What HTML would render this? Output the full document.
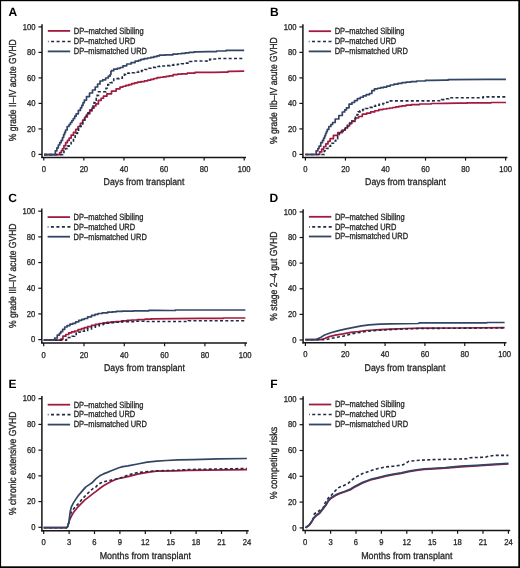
<!DOCTYPE html>
<html><head><meta charset="utf-8"><style>
html,body{margin:0;padding:0;background:#fff;}
svg{display:block;font-family:"Liberation Sans",sans-serif;will-change:transform;text-rendering:geometricPrecision;}
.t{fill:#262626;stroke:#262626;stroke-width:0.3px;}
</style></head><body>
<svg width="520" height="568" viewBox="0 0 520 568">
<rect x="0" y="0" width="520" height="568" fill="#fff"/>
<g><text x="8.5" y="16" font-size="12" font-weight="bold" fill="#000">A</text><line x1="42" y1="24.3" x2="42" y2="158" stroke="#151515" stroke-width="1.5"/><line x1="41.4" y1="157.4" x2="246" y2="157.4" stroke="#151515" stroke-width="1.5"/><line x1="38.5" y1="154.4" x2="42" y2="154.4" stroke="#151515" stroke-width="1.2"/><text x="31.25" y="157.1" font-size="8.5" textLength="4.25" lengthAdjust="spacingAndGlyphs" class="t">0</text><line x1="38.5" y1="128.9" x2="42" y2="128.9" stroke="#151515" stroke-width="1.2"/><text x="26.99" y="131.6" font-size="8.5" textLength="8.51" lengthAdjust="spacingAndGlyphs" class="t">20</text><line x1="38.5" y1="103.4" x2="42" y2="103.4" stroke="#151515" stroke-width="1.2"/><text x="26.99" y="106.1" font-size="8.5" textLength="8.51" lengthAdjust="spacingAndGlyphs" class="t">40</text><line x1="38.5" y1="77.9" x2="42" y2="77.9" stroke="#151515" stroke-width="1.2"/><text x="26.99" y="80.6" font-size="8.5" textLength="8.51" lengthAdjust="spacingAndGlyphs" class="t">60</text><line x1="38.5" y1="52.4" x2="42" y2="52.4" stroke="#151515" stroke-width="1.2"/><text x="26.99" y="55.1" font-size="8.5" textLength="8.51" lengthAdjust="spacingAndGlyphs" class="t">80</text><line x1="38.5" y1="26.9" x2="42" y2="26.9" stroke="#151515" stroke-width="1.2"/><text x="22.74" y="29.6" font-size="8.5" textLength="12.76" lengthAdjust="spacingAndGlyphs" class="t">100</text><line x1="43.8" y1="157.4" x2="43.8" y2="160.6" stroke="#151515" stroke-width="1.2"/><text x="41.67" y="171.9" font-size="8.5" textLength="4.25" lengthAdjust="spacingAndGlyphs" class="t">0</text><line x1="83.88" y1="157.4" x2="83.88" y2="160.6" stroke="#151515" stroke-width="1.2"/><text x="79.63" y="171.9" font-size="8.5" textLength="8.51" lengthAdjust="spacingAndGlyphs" class="t">20</text><line x1="123.96" y1="157.4" x2="123.96" y2="160.6" stroke="#151515" stroke-width="1.2"/><text x="119.71" y="171.9" font-size="8.5" textLength="8.51" lengthAdjust="spacingAndGlyphs" class="t">40</text><line x1="164.04" y1="157.4" x2="164.04" y2="160.6" stroke="#151515" stroke-width="1.2"/><text x="159.79" y="171.9" font-size="8.5" textLength="8.51" lengthAdjust="spacingAndGlyphs" class="t">60</text><line x1="204.12" y1="157.4" x2="204.12" y2="160.6" stroke="#151515" stroke-width="1.2"/><text x="199.87" y="171.9" font-size="8.5" textLength="8.51" lengthAdjust="spacingAndGlyphs" class="t">80</text><line x1="244.2" y1="157.4" x2="244.2" y2="160.6" stroke="#151515" stroke-width="1.2"/><text x="237.82" y="171.9" font-size="8.5" textLength="12.76" lengthAdjust="spacingAndGlyphs" class="t">100</text><text x="103.6" y="185.4" font-size="9.8" textLength="80.8" lengthAdjust="spacingAndGlyphs" class="t">Days from transplant</text><text transform="translate(16.1,141.25) rotate(-90)" font-size="10.2" textLength="102" lengthAdjust="spacingAndGlyphs" class="t">% grade II–IV acute GVHD</text><line x1="47.8" y1="30.9" x2="70.2" y2="30.9" stroke="#a11a3f" stroke-width="1.8"/><line x1="47.9" y1="41.5" x2="70.6" y2="41.5" stroke="#222b44" stroke-width="1.6" stroke-dasharray="0.7,2.5,3,2.5,3,2.5,3,2.5,3,9"/><line x1="47.8" y1="51.4" x2="70.2" y2="51.4" stroke="#334566" stroke-width="1.8"/><text x="73.8" y="33.7" font-size="9" textLength="69.8" lengthAdjust="spacingAndGlyphs" class="t">DP–matched Sibiling</text><text x="73.8" y="44.3" font-size="9" textLength="61.5" lengthAdjust="spacingAndGlyphs" class="t">DP–matched URD</text><text x="73.8" y="54.2" font-size="9" textLength="73.2" lengthAdjust="spacingAndGlyphs" class="t">DP–mismatched URD</text><polyline points="44,154.6 58.6,154.6 59.7,154.6 59.7,152.5 60.8,152.5 61.38,152.5 61.38,150.5 62.52,150.5 62.52,148.5 63.1,148.5 63.95,148.5 63.95,145.6 65.65,145.6 65.65,142.7 66.5,142.7 67.38,142.7 67.38,140.4 69.12,140.4 69.12,138.1 70,138.1 71.15,138.1 71.15,135.2 73.45,135.2 73.45,132.3 74.6,132.3 75.75,132.3 75.75,129.4 78.05,129.4 78.05,126.5 79.2,126.5 80.35,126.5 80.35,123.35 82.65,123.35 82.65,120.2 83.8,120.2 84.97,120.2 84.97,117 87.33,117 87.33,113.8 88.5,113.8 89.65,113.8 89.65,110.95 91.95,110.95 91.95,108.1 93.1,108.1 94.02,108.1 94.02,106 95.88,106 95.88,103.9 96.8,103.9 98.4,103.9 98.4,100.3 100,100.3 101.15,100.3 101.15,98.25 103.45,98.25 103.45,96.2 104.6,96.2 106.9,96.2 106.9,93.8 109.2,93.8 111.5,93.8 111.5,91.1 113.8,91.1 116.15,91.1 116.15,88.8 118.5,88.8 120,88.8 120,87.1 121.5,87.1 122.95,87.1 122.95,86.25 125.85,86.25 125.85,85.4 127.3,85.4 128.75,85.4 128.75,84.55 131.65,84.55 131.65,83.7 133.1,83.7 134.55,83.7 134.55,82.95 137.45,82.95 137.45,82.2 138.9,82.2 140.9,82.2 140.9,81.6 142.9,81.6 144.55,81.6 144.55,80.8 146.2,80.8 147.72,80.8 147.72,80.05 150.78,80.05 150.78,79.3 152.3,79.3 153.85,79.3 153.85,78.5 156.95,78.5 156.95,77.7 158.5,77.7 160.03,77.7 160.03,77.25 163.07,77.25 163.07,76.8 164.6,76.8 166.1,76.8 166.1,76.3 169.1,76.3 169.1,75.8 170.6,75.8 173.15,75.8 173.15,74.6 175.7,74.6 177.62,74.6 177.62,74.2 181.47,74.2 181.47,73.8 183.4,73.8 187.25,73.8 187.25,73.1 191.1,73.1 194.95,73.1 194.95,72.4 198.8,72.4 213.1,72.3 224.6,72.1 228.05,72.1 228.05,71.4 231.5,71.4 244.2,71.2" fill="none" stroke="#a11a3f" stroke-width="1.7" stroke-linejoin="round"/><polyline points="44,154.6 62,154.6 62.55,154.6 62.55,152.5 63.1,152.5 63.95,152.5 63.95,150.5 65.65,150.5 65.65,148.5 66.5,148.5 67.38,148.5 67.38,146.15 69.12,146.15 69.12,143.8 70,143.8 71.15,143.8 71.15,140.95 73.45,140.95 73.45,138.1 74.6,138.1 75.17,138.1 75.17,135.72 76.33,135.72 76.33,133.35 77.47,133.35 77.47,130.97 78.62,130.97 78.62,128.6 79.2,128.6 79.85,128.6 79.85,126.4 81.15,126.4 81.15,124.2 81.8,124.2 82.68,124.2 82.68,121.27 84.45,121.27 84.45,118.33 86.22,118.33 86.22,115.4 87.1,115.4 87.98,115.4 87.98,112.73 89.75,112.73 89.75,110.07 91.52,110.07 91.52,107.4 92.4,107.4 92.97,107.4 92.97,104.97 94.1,104.97 94.1,102.53 95.23,102.53 95.23,100.1 95.8,100.1 96.25,100.1 96.25,97.75 97.15,97.75 97.15,95.4 97.6,95.4 98.5,95.4 98.5,91.8 99.4,91.8 105.4,91.8 106,91.8 106,88.2 106.6,88.2 107.8,88.2 107.8,84.6 109,84.6 110.15,84.6 110.15,82.8 111.3,82.8 112.1,82.8 112.1,82.2 112.9,82.2 113.75,82.2 113.75,79 114.6,79 116.05,79 116.05,78.6 118.95,78.6 118.95,78.2 120.4,78.2 122.3,78.2 122.3,76.7 124.2,76.7 124.4,76.7 124.4,74.4 124.6,74.4 125.65,74.4 125.65,73.3 126.7,73.3 129.3,73.3 129.3,72.7 131.9,72.7 134.5,72.7 134.5,72.2 137.1,72.2 138.55,72.2 138.55,71.4 141.45,71.4 141.45,70.6 142.9,70.6 144.93,70.6 144.93,69.45 148.97,69.45 148.97,68.3 151,68.3 152.45,68.3 152.45,67.4 155.35,67.4 155.35,66.5 156.8,66.5 159.6,66.5 159.6,66.05 165.2,66.05 165.2,65.6 168,65.6 169.93,65.6 169.93,65.1 173.77,65.1 173.77,64.6 175.7,64.6 177.62,64.6 177.62,64.2 181.47,64.2 181.47,63.8 183.4,63.8 185.7,63.8 185.7,63.1 188,63.1 189.55,63.1 189.55,61.5 191.1,61.5 193,61.5 193,61 194.9,61 208.5,61.1 209.65,61.1 209.65,59.4 210.8,59.4 213.1,59.4 213.1,58.95 217.7,58.95 217.7,58.5 220,58.5 244.2,58.5" fill="none" stroke="#222b44" stroke-width="1.6" stroke-dasharray="3,2.3"/><polyline points="44,154.6 54.4,154.6 55.3,154.6 55.3,150.8 56.2,150.8 56.9,150.8 56.9,147.9 58.3,147.9 58.3,145 59,145 59.73,145 59.73,142.7 61.17,142.7 61.17,140.4 61.9,140.4 62.48,140.4 62.48,137.5 63.62,137.5 63.62,134.6 64.2,134.6 64.65,134.6 64.65,132.3 65.55,132.3 65.55,130 66,130 67.15,130 67.15,126.5 68.3,126.5 69.03,126.5 69.03,124.5 70.47,124.5 70.47,122.5 71.2,122.5 71.9,122.5 71.9,120.5 73.3,120.5 73.3,118.5 74,118.5 74.72,118.5 74.72,116.15 76.18,116.15 76.18,113.8 76.9,113.8 78.35,113.8 78.35,110.4 79.8,110.4 80.45,110.4 80.45,107.85 81.75,107.85 81.75,105.3 82.4,105.3 83.05,105.3 83.05,102.7 84.35,102.7 84.35,100.1 85,100.1 86.5,100.1 86.5,96.6 88,96.6 89.5,96.6 89.5,93 91,93 92.5,93 92.5,90 94,90 95.2,90 95.2,87 96.4,87 97.6,87 97.6,84 98.8,84 100,84 100,81 101.2,81 102.7,81 102.7,79.8 104.2,79.8 105.65,79.8 105.65,78 107.1,78 108.3,78 108.3,76.2 109.5,76.2 110.05,76.2 110.05,74.5 110.6,74.5 110.9,74.5 110.9,71.5 111.2,71.5 111.45,71.5 111.45,70.7 111.7,70.7 113.75,70.7 113.75,69.2 115.8,69.2 117.22,69.2 117.22,68.35 120.08,68.35 120.08,67.5 121.5,67.5 122.95,67.5 122.95,65.8 124.4,65.8 126.7,65.8 126.7,64 129,64 131.05,64 131.05,62.6 133.1,62.6 135.1,62.6 135.1,61.2 137.1,61.2 138.55,61.2 138.55,60.3 140,60.3 140.9,60.3 140.9,59.4 141.8,59.4 144,59.4 144,58.6 146.2,58.6 147.72,58.6 147.72,58 150.78,58 150.78,57.4 152.3,57.4 153.85,57.4 153.85,56.65 156.95,56.65 156.95,55.9 158.5,55.9 159.4,55.9 159.4,55.2 160.3,55.2 165.15,55.2 165.15,54.9 170,54.9 172.85,54.9 172.85,54.2 175.7,54.2 177.62,54.2 177.62,53.75 181.47,53.75 181.47,53.3 183.4,53.3 185.32,53.3 185.32,52.8 189.18,52.8 189.18,52.3 191.1,52.3 194.15,52.3 194.15,51.8 197.2,51.8 208.5,51.6 216.55,51.6 216.55,51 224.6,51 226.05,51 226.05,50.4 227.5,50.4 244.2,50.4" fill="none" stroke="#334566" stroke-width="1.7" stroke-linejoin="round"/></g>
<g><text x="269.9" y="16" font-size="12" font-weight="bold" fill="#000">B</text><line x1="302.9" y1="24.3" x2="302.9" y2="158" stroke="#151515" stroke-width="1.5"/><line x1="302.3" y1="157.4" x2="507.4" y2="157.4" stroke="#151515" stroke-width="1.5"/><line x1="299.4" y1="154.4" x2="302.9" y2="154.4" stroke="#151515" stroke-width="1.2"/><text x="292.15" y="157.1" font-size="8.5" textLength="4.25" lengthAdjust="spacingAndGlyphs" class="t">0</text><line x1="299.4" y1="128.9" x2="302.9" y2="128.9" stroke="#151515" stroke-width="1.2"/><text x="287.89" y="131.6" font-size="8.5" textLength="8.51" lengthAdjust="spacingAndGlyphs" class="t">20</text><line x1="299.4" y1="103.4" x2="302.9" y2="103.4" stroke="#151515" stroke-width="1.2"/><text x="287.89" y="106.1" font-size="8.5" textLength="8.51" lengthAdjust="spacingAndGlyphs" class="t">40</text><line x1="299.4" y1="77.9" x2="302.9" y2="77.9" stroke="#151515" stroke-width="1.2"/><text x="287.89" y="80.6" font-size="8.5" textLength="8.51" lengthAdjust="spacingAndGlyphs" class="t">60</text><line x1="299.4" y1="52.4" x2="302.9" y2="52.4" stroke="#151515" stroke-width="1.2"/><text x="287.89" y="55.1" font-size="8.5" textLength="8.51" lengthAdjust="spacingAndGlyphs" class="t">80</text><line x1="299.4" y1="26.9" x2="302.9" y2="26.9" stroke="#151515" stroke-width="1.2"/><text x="283.64" y="29.6" font-size="8.5" textLength="12.76" lengthAdjust="spacingAndGlyphs" class="t">100</text><line x1="305.4" y1="157.4" x2="305.4" y2="160.6" stroke="#151515" stroke-width="1.2"/><text x="303.27" y="171.9" font-size="8.5" textLength="4.25" lengthAdjust="spacingAndGlyphs" class="t">0</text><line x1="345.44" y1="157.4" x2="345.44" y2="160.6" stroke="#151515" stroke-width="1.2"/><text x="341.19" y="171.9" font-size="8.5" textLength="8.51" lengthAdjust="spacingAndGlyphs" class="t">20</text><line x1="385.48" y1="157.4" x2="385.48" y2="160.6" stroke="#151515" stroke-width="1.2"/><text x="381.23" y="171.9" font-size="8.5" textLength="8.51" lengthAdjust="spacingAndGlyphs" class="t">40</text><line x1="425.52" y1="157.4" x2="425.52" y2="160.6" stroke="#151515" stroke-width="1.2"/><text x="421.27" y="171.9" font-size="8.5" textLength="8.51" lengthAdjust="spacingAndGlyphs" class="t">60</text><line x1="465.56" y1="157.4" x2="465.56" y2="160.6" stroke="#151515" stroke-width="1.2"/><text x="461.31" y="171.9" font-size="8.5" textLength="8.51" lengthAdjust="spacingAndGlyphs" class="t">80</text><line x1="505.6" y1="157.4" x2="505.6" y2="160.6" stroke="#151515" stroke-width="1.2"/><text x="499.22" y="171.9" font-size="8.5" textLength="12.76" lengthAdjust="spacingAndGlyphs" class="t">100</text><text x="365.1" y="185.4" font-size="9.8" textLength="80.8" lengthAdjust="spacingAndGlyphs" class="t">Days from transplant</text><text transform="translate(277,143.95) rotate(-90)" font-size="10.2" textLength="106.7" lengthAdjust="spacingAndGlyphs" class="t">% grade IIb–IV acute GVHD</text><line x1="308.7" y1="31.2" x2="331.1" y2="31.2" stroke="#a11a3f" stroke-width="1.8"/><line x1="308.8" y1="41.5" x2="331.5" y2="41.5" stroke="#222b44" stroke-width="1.6" stroke-dasharray="0.7,2.5,3,2.5,3,2.5,3,2.5,3,9"/><line x1="308.7" y1="51.4" x2="331.1" y2="51.4" stroke="#334566" stroke-width="1.8"/><text x="334.7" y="34" font-size="9" textLength="69.8" lengthAdjust="spacingAndGlyphs" class="t">DP–matched Sibiling</text><text x="334.7" y="44.3" font-size="9" textLength="61.5" lengthAdjust="spacingAndGlyphs" class="t">DP–matched URD</text><text x="334.7" y="54.2" font-size="9" textLength="73.2" lengthAdjust="spacingAndGlyphs" class="t">DP–mismatched URD</text><polyline points="305.4,154.5 318.5,154.5 319.65,154.5 319.65,151.9 320.8,151.9 321.7,151.9 321.7,149.1 322.6,149.1 323.68,149.1 323.68,146.5 325.82,146.5 325.82,143.9 326.9,143.9 327.97,143.9 327.97,141.3 330.12,141.3 330.12,138.7 331.2,138.7 333.4,138.7 333.4,135.3 335.6,135.3 337.75,135.3 337.75,132.7 339.9,132.7 342.05,132.7 342.05,130.1 344.2,130.1 345.27,130.1 345.27,127.95 347.43,127.95 347.43,125.8 348.5,125.8 349.6,125.8 349.6,123.6 351.8,123.6 351.8,121.4 352.9,121.4 355.05,121.4 355.05,118 357.2,118 358.6,118 358.6,116.5 360,116.5 362.3,116.5 362.3,114.2 364.6,114.2 366.62,114.2 366.62,113.05 370.68,113.05 370.68,111.9 372.7,111.9 374.73,111.9 374.73,110.75 378.77,110.75 378.77,109.6 380.8,109.6 382.9,109.6 382.9,109 385,109 386.53,109 386.53,108.5 389.6,108.5 389.6,108 392.67,108 392.67,107.5 394.2,107.5 395.75,107.5 395.75,106.93 398.85,106.93 398.85,106.37 401.95,106.37 401.95,105.8 403.5,105.8 406.07,105.8 406.07,105.2 411.23,105.2 411.23,104.6 413.8,104.6 419.6,104.6 419.6,104 425.4,104 431.15,104 431.15,103.5 436.9,103.5 445,103.4 457.5,103.2 466.85,103.2 466.85,102.8 476.2,102.8 491.1,102.8 491.1,102.5 506,102.5" fill="none" stroke="#a11a3f" stroke-width="1.7" stroke-linejoin="round"/><polyline points="305.4,154.5 323.1,154.5 324.25,154.5 324.25,150.8 325.4,150.8 326.25,150.8 326.25,148.5 327.95,148.5 327.95,146.2 328.8,146.2 330.55,146.2 330.55,143.3 332.3,143.3 333.45,143.3 333.45,141 334.6,141 335.75,141 335.75,138.7 336.9,138.7 337.67,138.7 337.67,136.1 339.23,136.1 339.23,133.5 340,133.5 341.05,133.5 341.05,131.5 343.15,131.5 343.15,129.5 344.2,129.5 345.27,129.5 345.27,127.4 347.43,127.4 347.43,125.3 348.5,125.3 349.6,125.3 349.6,123.15 351.8,123.15 351.8,121 352.9,121 353.8,121 353.8,119 355.6,119 355.6,117 356.5,117 357.07,117 357.07,114.45 358.23,114.45 358.23,111.9 358.8,111.9 360,111.9 360,110.8 361.2,110.8 362.62,110.8 362.62,109.65 365.47,109.65 365.47,108.5 366.9,108.5 368.62,108.5 368.62,107.35 372.07,107.35 372.07,106.2 373.8,106.2 375.55,106.2 375.55,105.3 379.05,105.3 379.05,104.4 380.8,104.4 382.9,104.4 382.9,103.5 385,103.5 386.75,103.5 386.75,102.3 388.5,102.3 389.05,102.3 389.05,100.9 389.6,100.9 408.1,100.9 440.4,100.8 441.55,100.8 441.55,99.6 442.7,99.6 445.1,99.6 445.1,98.8 447.5,98.8 448.75,98.8 448.75,97.8 450,97.8 482.5,97.8 483.15,97.8 483.15,96.9 483.8,96.9 506,96.9" fill="none" stroke="#222b44" stroke-width="1.6" stroke-dasharray="3,2.3"/><polyline points="305.4,154.5 315,154.5 316.15,154.5 316.15,150.8 317.3,150.8 317.88,150.8 317.88,148.5 319.03,148.5 319.03,146.2 319.6,146.2 320.75,146.2 320.75,142.7 321.9,142.7 322.47,142.7 322.47,140.4 323.62,140.4 323.62,138.1 324.2,138.1 324.65,138.1 324.65,135.8 325.55,135.8 325.55,133.5 326,133.5 326.43,133.5 326.43,131.45 327.27,131.45 327.27,129.4 327.7,129.4 328.85,129.4 328.85,126.5 330,126.5 330.88,126.5 330.88,124.5 332.62,124.5 332.62,122.5 333.5,122.5 335.2,122.5 335.2,119 336.9,119 338.85,119 338.85,115.5 340.8,115.5 342.3,115.5 342.3,112 343.8,112 344.68,112 344.68,109.9 346.43,109.9 346.43,107.8 347.3,107.8 349.05,107.8 349.05,104.2 350.8,104.2 351.95,104.2 351.95,102.5 353.1,102.5 354.53,102.5 354.53,100.6 357.38,100.6 357.38,98.7 358.8,98.7 360.25,98.7 360.25,97.25 363.15,97.25 363.15,95.8 364.6,95.8 366.2,95.8 366.2,94.65 369.4,94.65 369.4,93.5 371,93.5 371.85,93.5 371.85,90.6 372.7,90.6 374.45,90.6 374.45,88.8 376.2,88.8 377.62,88.8 377.62,88.25 380.47,88.25 380.47,87.7 381.9,87.7 383.45,87.7 383.45,87.1 385,87.1 386.73,87.1 386.73,86.05 390.17,86.05 390.17,85 391.9,85 393.92,85 393.92,84.15 397.98,84.15 397.98,83.3 400,83.3 402.02,83.3 402.02,82.7 406.08,82.7 406.08,82.1 408.1,82.1 410.98,82.1 410.98,81.55 416.73,81.55 416.73,81 419.6,81 425.4,81 425.4,80.4 431.2,80.4 445,80.2 448.1,80.2 448.1,79.6 451.2,79.6 487.5,79.4 506,79.3" fill="none" stroke="#334566" stroke-width="1.7" stroke-linejoin="round"/></g>
<g><text x="8.3" y="202" font-size="12" font-weight="bold" fill="#000">C</text><line x1="41.8" y1="208.6" x2="41.8" y2="343.6" stroke="#151515" stroke-width="1.5"/><line x1="41.2" y1="343" x2="247" y2="343" stroke="#151515" stroke-width="1.5"/><line x1="38.3" y1="339.6" x2="41.8" y2="339.6" stroke="#151515" stroke-width="1.2"/><text x="31.05" y="342.3" font-size="8.5" textLength="4.25" lengthAdjust="spacingAndGlyphs" class="t">0</text><line x1="38.3" y1="313.92" x2="41.8" y2="313.92" stroke="#151515" stroke-width="1.2"/><text x="26.79" y="316.62" font-size="8.5" textLength="8.51" lengthAdjust="spacingAndGlyphs" class="t">20</text><line x1="38.3" y1="288.24" x2="41.8" y2="288.24" stroke="#151515" stroke-width="1.2"/><text x="26.79" y="290.94" font-size="8.5" textLength="8.51" lengthAdjust="spacingAndGlyphs" class="t">40</text><line x1="38.3" y1="262.56" x2="41.8" y2="262.56" stroke="#151515" stroke-width="1.2"/><text x="26.79" y="265.26" font-size="8.5" textLength="8.51" lengthAdjust="spacingAndGlyphs" class="t">60</text><line x1="38.3" y1="236.88" x2="41.8" y2="236.88" stroke="#151515" stroke-width="1.2"/><text x="26.79" y="239.58" font-size="8.5" textLength="8.51" lengthAdjust="spacingAndGlyphs" class="t">80</text><line x1="38.3" y1="211.2" x2="41.8" y2="211.2" stroke="#151515" stroke-width="1.2"/><text x="22.54" y="213.9" font-size="8.5" textLength="12.76" lengthAdjust="spacingAndGlyphs" class="t">100</text><line x1="43.7" y1="343" x2="43.7" y2="346.2" stroke="#151515" stroke-width="1.2"/><text x="41.57" y="357.5" font-size="8.5" textLength="4.25" lengthAdjust="spacingAndGlyphs" class="t">0</text><line x1="84" y1="343" x2="84" y2="346.2" stroke="#151515" stroke-width="1.2"/><text x="79.75" y="357.5" font-size="8.5" textLength="8.51" lengthAdjust="spacingAndGlyphs" class="t">20</text><line x1="124.3" y1="343" x2="124.3" y2="346.2" stroke="#151515" stroke-width="1.2"/><text x="120.05" y="357.5" font-size="8.5" textLength="8.51" lengthAdjust="spacingAndGlyphs" class="t">40</text><line x1="164.6" y1="343" x2="164.6" y2="346.2" stroke="#151515" stroke-width="1.2"/><text x="160.35" y="357.5" font-size="8.5" textLength="8.51" lengthAdjust="spacingAndGlyphs" class="t">60</text><line x1="204.9" y1="343" x2="204.9" y2="346.2" stroke="#151515" stroke-width="1.2"/><text x="200.65" y="357.5" font-size="8.5" textLength="8.51" lengthAdjust="spacingAndGlyphs" class="t">80</text><line x1="245.2" y1="343" x2="245.2" y2="346.2" stroke="#151515" stroke-width="1.2"/><text x="238.82" y="357.5" font-size="8.5" textLength="12.76" lengthAdjust="spacingAndGlyphs" class="t">100</text><text x="104.05" y="371" font-size="9.8" textLength="80.8" lengthAdjust="spacingAndGlyphs" class="t">Days from transplant</text><text transform="translate(15.9,328.05) rotate(-90)" font-size="10.2" textLength="104.6" lengthAdjust="spacingAndGlyphs" class="t">% grade III–IV acute GVHD</text><line x1="47.6" y1="217.1" x2="70" y2="217.1" stroke="#a11a3f" stroke-width="1.8"/><line x1="47.7" y1="226.9" x2="70.4" y2="226.9" stroke="#222b44" stroke-width="1.6" stroke-dasharray="0.7,2.5,3,2.5,3,2.5,3,2.5,3,9"/><line x1="47.6" y1="236.7" x2="70" y2="236.7" stroke="#334566" stroke-width="1.8"/><text x="73.6" y="219.9" font-size="9" textLength="69.8" lengthAdjust="spacingAndGlyphs" class="t">DP–matched Sibiling</text><text x="73.6" y="229.7" font-size="9" textLength="61.5" lengthAdjust="spacingAndGlyphs" class="t">DP–matched URD</text><text x="73.6" y="239.5" font-size="9" textLength="73.2" lengthAdjust="spacingAndGlyphs" class="t">DP–mismatched URD</text><polyline points="43.7,340.1 59.8,340.1 60.65,340.1 60.65,339.1 61.5,339.1 62.95,339.1 62.95,336.2 64.4,336.2 65.85,336.2 65.85,334.5 67.3,334.5 68.75,334.5 68.75,332.8 70.2,332.8 71.65,332.8 71.65,331.9 73.1,331.9 74.55,331.9 74.55,331 76,331 78,331 78,329.7 80,329.7 81.42,329.7 81.42,328.7 84.28,328.7 84.28,327.7 85.7,327.7 87.62,327.7 87.62,326.55 91.48,326.55 91.48,325.4 93.4,325.4 95.33,325.4 95.33,324.45 99.17,324.45 99.17,323.5 101.1,323.5 103.02,323.5 103.02,322.9 106.88,322.9 106.88,322.3 108.8,322.3 111.1,322.3 111.1,321.9 115.7,321.9 115.7,321.5 118,321.5 121.5,321.5 121.5,320.8 125,320.8 127.12,320.8 127.12,320.4 131.38,320.4 131.38,320 133.5,320 137.32,320 137.32,319.6 144.98,319.6 144.98,319.2 148.8,319.2 151.15,319.2 151.15,318.8 153.5,318.8 175,318.6 200.8,318.4 223.1,318.4 223.1,318 245.4,318" fill="none" stroke="#a11a3f" stroke-width="1.7" stroke-linejoin="round"/><polyline points="43.7,340.1 65.4,340.1 66.45,340.1 66.45,337.6 67.5,337.6 70.2,337.5 72.2,337.5 72.2,336.2 74.2,336.2 74.5,336.2 74.5,334.5 74.8,334.5 76.25,334.5 76.25,333.1 77.7,333.1 79.05,333.1 79.05,332 80.4,332 81.73,332 81.73,331.2 84.38,331.2 84.38,330.4 85.7,330.4 87.62,330.4 87.62,328.85 91.48,328.85 91.48,327.3 93.4,327.3 95.33,327.3 95.33,325.95 99.17,325.95 99.17,324.6 101.1,324.6 103.02,324.6 103.02,323.85 106.88,323.85 106.88,323.1 108.8,323.1 111.1,323.1 111.1,322.7 115.7,322.7 115.7,322.3 118,322.3 121.9,322.3 121.9,321.6 125.8,321.6 133.5,321.6 133.5,321.2 141.2,321.2 145.8,321.2 145.8,321.5 150.4,321.5 186.9,321.5 188.45,321.5 188.45,320.8 190,320.8 245.4,320.8" fill="none" stroke="#222b44" stroke-width="1.6" stroke-dasharray="3,2.3"/><polyline points="43.7,340.1 53.5,340.1 54.65,340.1 54.65,338 55.8,338 57.25,338 57.25,335.1 58.7,335.1 59.4,335.1 59.4,333.35 60.8,333.35 60.8,331.6 61.5,331.6 62.65,331.6 62.65,329.3 63.8,329.3 64.7,329.3 64.7,327 65.6,327 67.05,327 67.05,325.6 68.5,325.6 69.95,325.6 69.95,324.1 71.4,324.1 72.8,324.1 72.8,323.3 74.2,323.3 75.65,323.3 75.65,321.8 77.1,321.8 78.75,321.8 78.75,320.3 80.4,320.3 81.73,320.3 81.73,319.4 84.38,319.4 84.38,318.5 85.7,318.5 87.62,318.5 87.62,316.95 91.48,316.95 91.48,315.4 93.4,315.4 94.93,315.4 94.93,314.45 97.97,314.45 97.97,313.5 99.5,313.5 102.2,313.5 102.2,312.9 104.9,312.9 107.6,312.9 107.6,312.2 110.3,312.2 112.22,312.2 112.22,311.8 116.08,311.8 116.08,311.4 118,311.4 121.9,311.4 121.9,311.1 125.8,311.1 133.5,311.1 133.5,310.8 141.2,310.8 148.85,310.8 148.85,310.3 156.5,310.3 170,310.5 175.4,310.5 175.4,310 180.8,310 245.4,310" fill="none" stroke="#334566" stroke-width="1.7" stroke-linejoin="round"/></g>
<g><text x="269.5" y="202" font-size="12" font-weight="bold" fill="#000">D</text><line x1="303.1" y1="209.3" x2="303.1" y2="343.4" stroke="#151515" stroke-width="1.5"/><line x1="302.5" y1="342.8" x2="506.4" y2="342.8" stroke="#151515" stroke-width="1.5"/><line x1="299.6" y1="340" x2="303.1" y2="340" stroke="#151515" stroke-width="1.2"/><text x="292.35" y="342.7" font-size="8.5" textLength="4.25" lengthAdjust="spacingAndGlyphs" class="t">0</text><line x1="299.6" y1="314.38" x2="303.1" y2="314.38" stroke="#151515" stroke-width="1.2"/><text x="288.09" y="317.08" font-size="8.5" textLength="8.51" lengthAdjust="spacingAndGlyphs" class="t">20</text><line x1="299.6" y1="288.76" x2="303.1" y2="288.76" stroke="#151515" stroke-width="1.2"/><text x="288.09" y="291.46" font-size="8.5" textLength="8.51" lengthAdjust="spacingAndGlyphs" class="t">40</text><line x1="299.6" y1="263.14" x2="303.1" y2="263.14" stroke="#151515" stroke-width="1.2"/><text x="288.09" y="265.84" font-size="8.5" textLength="8.51" lengthAdjust="spacingAndGlyphs" class="t">60</text><line x1="299.6" y1="237.52" x2="303.1" y2="237.52" stroke="#151515" stroke-width="1.2"/><text x="288.09" y="240.22" font-size="8.5" textLength="8.51" lengthAdjust="spacingAndGlyphs" class="t">80</text><line x1="299.6" y1="211.9" x2="303.1" y2="211.9" stroke="#151515" stroke-width="1.2"/><text x="283.84" y="214.6" font-size="8.5" textLength="12.76" lengthAdjust="spacingAndGlyphs" class="t">100</text><line x1="305.4" y1="342.8" x2="305.4" y2="346" stroke="#151515" stroke-width="1.2"/><text x="303.27" y="357.3" font-size="8.5" textLength="4.25" lengthAdjust="spacingAndGlyphs" class="t">0</text><line x1="345.24" y1="342.8" x2="345.24" y2="346" stroke="#151515" stroke-width="1.2"/><text x="340.99" y="357.3" font-size="8.5" textLength="8.51" lengthAdjust="spacingAndGlyphs" class="t">20</text><line x1="385.08" y1="342.8" x2="385.08" y2="346" stroke="#151515" stroke-width="1.2"/><text x="380.83" y="357.3" font-size="8.5" textLength="8.51" lengthAdjust="spacingAndGlyphs" class="t">40</text><line x1="424.92" y1="342.8" x2="424.92" y2="346" stroke="#151515" stroke-width="1.2"/><text x="420.67" y="357.3" font-size="8.5" textLength="8.51" lengthAdjust="spacingAndGlyphs" class="t">60</text><line x1="464.76" y1="342.8" x2="464.76" y2="346" stroke="#151515" stroke-width="1.2"/><text x="460.51" y="357.3" font-size="8.5" textLength="8.51" lengthAdjust="spacingAndGlyphs" class="t">80</text><line x1="504.6" y1="342.8" x2="504.6" y2="346" stroke="#151515" stroke-width="1.2"/><text x="498.22" y="357.3" font-size="8.5" textLength="12.76" lengthAdjust="spacingAndGlyphs" class="t">100</text><text x="364.6" y="370.8" font-size="9.8" textLength="80.8" lengthAdjust="spacingAndGlyphs" class="t">Days from transplant</text><text transform="translate(277.2,320.75) rotate(-90)" font-size="10.2" textLength="89.2" lengthAdjust="spacingAndGlyphs" class="t">% stage 2–4 gut GVHD</text><line x1="308.9" y1="216.8" x2="331.3" y2="216.8" stroke="#a11a3f" stroke-width="1.8"/><line x1="309" y1="226.9" x2="331.7" y2="226.9" stroke="#222b44" stroke-width="1.6" stroke-dasharray="0.7,2.5,3,2.5,3,2.5,3,2.5,3,9"/><line x1="308.9" y1="236.5" x2="331.3" y2="236.5" stroke="#334566" stroke-width="1.8"/><text x="334.9" y="219.6" font-size="9" textLength="69.8" lengthAdjust="spacingAndGlyphs" class="t">DP–matched Sibiling</text><text x="334.9" y="229.7" font-size="9" textLength="61.5" lengthAdjust="spacingAndGlyphs" class="t">DP–matched URD</text><text x="334.9" y="239.3" font-size="9" textLength="73.2" lengthAdjust="spacingAndGlyphs" class="t">DP–mismatched URD</text><polyline points="305.4,339.7 320,339.7 324.6,338.5 329.2,336.6 335.4,335.1 343.1,333.8 350.8,332.3 358.5,331.5 366.2,330.5 373.8,330 380,329.7 390.4,329.2 405.8,328.5 421.2,328.2 455,328 504.6,327.7" fill="none" stroke="#a11a3f" stroke-width="1.7" stroke-linejoin="round"/><polyline points="305.4,339.7 326.2,339.7 330.8,338.5 336.9,337.2 343.1,336.2 349.2,334.6 355.4,333.1 361.5,332.3 366.2,331.5 373.8,330.6 380,330.2 390.4,329.6 405.8,328.9 421.2,328.5 455,328.2 504.6,327.9" fill="none" stroke="#222b44" stroke-width="1.6" stroke-dasharray="3,2.3"/><polyline points="305.4,339.7 315.4,339.7 320,337.9 324.6,335 330.8,332.8 338.5,330.6 346.2,328.8 353.8,327.4 361.5,325.9 369.2,324.8 380,324.2 390.4,323.9 418.1,323.5 419.6,322.9 486.2,322.9 487.7,322.5 504.6,322.5" fill="none" stroke="#334566" stroke-width="1.7" stroke-linejoin="round"/></g>
<g><text x="8.6" y="388" font-size="12" font-weight="bold" fill="#000">E</text><line x1="41.9" y1="396.1" x2="41.9" y2="531.4" stroke="#151515" stroke-width="1.5"/><line x1="41.3" y1="530.8" x2="248.7" y2="530.8" stroke="#151515" stroke-width="1.5"/><line x1="38.4" y1="527.3" x2="41.9" y2="527.3" stroke="#151515" stroke-width="1.2"/><text x="31.15" y="530" font-size="8.5" textLength="4.25" lengthAdjust="spacingAndGlyphs" class="t">0</text><line x1="38.4" y1="501.58" x2="41.9" y2="501.58" stroke="#151515" stroke-width="1.2"/><text x="26.89" y="504.28" font-size="8.5" textLength="8.51" lengthAdjust="spacingAndGlyphs" class="t">20</text><line x1="38.4" y1="475.86" x2="41.9" y2="475.86" stroke="#151515" stroke-width="1.2"/><text x="26.89" y="478.56" font-size="8.5" textLength="8.51" lengthAdjust="spacingAndGlyphs" class="t">40</text><line x1="38.4" y1="450.14" x2="41.9" y2="450.14" stroke="#151515" stroke-width="1.2"/><text x="26.89" y="452.84" font-size="8.5" textLength="8.51" lengthAdjust="spacingAndGlyphs" class="t">60</text><line x1="38.4" y1="424.42" x2="41.9" y2="424.42" stroke="#151515" stroke-width="1.2"/><text x="26.89" y="427.12" font-size="8.5" textLength="8.51" lengthAdjust="spacingAndGlyphs" class="t">80</text><line x1="38.4" y1="398.7" x2="41.9" y2="398.7" stroke="#151515" stroke-width="1.2"/><text x="22.64" y="401.4" font-size="8.5" textLength="12.76" lengthAdjust="spacingAndGlyphs" class="t">100</text><line x1="43.7" y1="530.8" x2="43.7" y2="534" stroke="#151515" stroke-width="1.2"/><text x="41.57" y="545.3" font-size="8.5" textLength="4.25" lengthAdjust="spacingAndGlyphs" class="t">0</text><line x1="69.1" y1="530.8" x2="69.1" y2="534" stroke="#151515" stroke-width="1.2"/><text x="66.97" y="545.3" font-size="8.5" textLength="4.25" lengthAdjust="spacingAndGlyphs" class="t">3</text><line x1="94.5" y1="530.8" x2="94.5" y2="534" stroke="#151515" stroke-width="1.2"/><text x="92.37" y="545.3" font-size="8.5" textLength="4.25" lengthAdjust="spacingAndGlyphs" class="t">6</text><line x1="119.9" y1="530.8" x2="119.9" y2="534" stroke="#151515" stroke-width="1.2"/><text x="117.77" y="545.3" font-size="8.5" textLength="4.25" lengthAdjust="spacingAndGlyphs" class="t">9</text><line x1="145.3" y1="530.8" x2="145.3" y2="534" stroke="#151515" stroke-width="1.2"/><text x="141.05" y="545.3" font-size="8.5" textLength="8.51" lengthAdjust="spacingAndGlyphs" class="t">12</text><line x1="170.7" y1="530.8" x2="170.7" y2="534" stroke="#151515" stroke-width="1.2"/><text x="166.45" y="545.3" font-size="8.5" textLength="8.51" lengthAdjust="spacingAndGlyphs" class="t">15</text><line x1="196.1" y1="530.8" x2="196.1" y2="534" stroke="#151515" stroke-width="1.2"/><text x="191.85" y="545.3" font-size="8.5" textLength="8.51" lengthAdjust="spacingAndGlyphs" class="t">18</text><line x1="221.5" y1="530.8" x2="221.5" y2="534" stroke="#151515" stroke-width="1.2"/><text x="217.25" y="545.3" font-size="8.5" textLength="8.51" lengthAdjust="spacingAndGlyphs" class="t">21</text><line x1="246.9" y1="530.8" x2="246.9" y2="534" stroke="#151515" stroke-width="1.2"/><text x="242.65" y="545.3" font-size="8.5" textLength="8.51" lengthAdjust="spacingAndGlyphs" class="t">24</text><text x="99.7" y="558.8" font-size="9.8" textLength="91.2" lengthAdjust="spacingAndGlyphs" class="t">Months from transplant</text><text transform="translate(16,515.05) rotate(-90)" font-size="10.2" textLength="103.5" lengthAdjust="spacingAndGlyphs" class="t">% chronic extensive GVHD</text><line x1="47.7" y1="404.7" x2="70.1" y2="404.7" stroke="#a11a3f" stroke-width="1.8"/><line x1="47.8" y1="414.6" x2="70.5" y2="414.6" stroke="#222b44" stroke-width="1.6" stroke-dasharray="0.7,2.5,3,2.5,3,2.5,3,2.5,3,9"/><line x1="47.7" y1="424.6" x2="70.1" y2="424.6" stroke="#334566" stroke-width="1.8"/><text x="73.7" y="407.5" font-size="9" textLength="69.8" lengthAdjust="spacingAndGlyphs" class="t">DP–matched Sibiling</text><text x="73.7" y="417.4" font-size="9" textLength="61.5" lengthAdjust="spacingAndGlyphs" class="t">DP–matched URD</text><text x="73.7" y="427.4" font-size="9" textLength="73.2" lengthAdjust="spacingAndGlyphs" class="t">DP–mismatched URD</text><polyline points="43.7,527.7 66.5,527.7 67.7,526.6 69,521.6 70.2,518.5 71.2,516.5 73.9,511.9 77.6,507.3 81.2,503.6 84.9,499.9 89.5,496.3 94,492.8 95.8,491.6 99.7,488.5 103.5,485.8 107.4,483.5 111.2,481.6 115.1,479.7 118.9,478.5 124.3,477.4 128.9,476.3 137.6,474.1 147.3,472.3 156.5,471.2 175,470.8 188.5,470.3 246.9,469.6" fill="none" stroke="#a11a3f" stroke-width="1.7" stroke-linejoin="round"/><polyline points="43.7,527.7 66.5,527.7 67.7,526.6 69,521.6 70.8,513.5 72.1,511 74.8,507.3 78.5,503.6 82.1,499.1 85.8,495.4 89.5,491.7 93.1,488.5 95.8,487 98.2,484.3 101.2,482.8 105.8,481.2 111.2,480.1 115.1,479.2 120,478.3 128,475 137.6,472.6 147.3,471.5 156.5,470.8 175,470.3 188.5,469.5 246.9,468.5" fill="none" stroke="#222b44" stroke-width="1.6" stroke-dasharray="3,2.3"/><polyline points="43.7,527.7 66.5,527.7 67.7,526.6 69,521.6 69.6,516.7 70.2,511.8 71.4,506.8 73.3,503.1 75.7,499.4 78.2,495.7 81.9,491.4 85.6,487.1 89.3,484.6 92,482.8 95.8,478.9 99.7,475.8 103.5,473.9 107.4,472.4 111.2,470.8 115.1,469.3 118.9,467.8 122.8,466.6 128,465.8 137.6,464 147.2,462.1 156.8,461.1 166.5,460.5 178,459.9 193.1,459.7 219.2,458.9 246.9,458.5" fill="none" stroke="#334566" stroke-width="1.7" stroke-linejoin="round"/></g>
<g><text x="270.3" y="388" font-size="12" font-weight="bold" fill="#000">F</text><line x1="303.1" y1="396.3" x2="303.1" y2="531.1" stroke="#151515" stroke-width="1.5"/><line x1="302.5" y1="530.5" x2="510.2" y2="530.5" stroke="#151515" stroke-width="1.5"/><line x1="299.6" y1="527.9" x2="303.1" y2="527.9" stroke="#151515" stroke-width="1.2"/><text x="292.35" y="530.6" font-size="8.5" textLength="4.25" lengthAdjust="spacingAndGlyphs" class="t">0</text><line x1="299.6" y1="502.1" x2="303.1" y2="502.1" stroke="#151515" stroke-width="1.2"/><text x="288.09" y="504.8" font-size="8.5" textLength="8.51" lengthAdjust="spacingAndGlyphs" class="t">20</text><line x1="299.6" y1="476.3" x2="303.1" y2="476.3" stroke="#151515" stroke-width="1.2"/><text x="288.09" y="479" font-size="8.5" textLength="8.51" lengthAdjust="spacingAndGlyphs" class="t">40</text><line x1="299.6" y1="450.5" x2="303.1" y2="450.5" stroke="#151515" stroke-width="1.2"/><text x="288.09" y="453.2" font-size="8.5" textLength="8.51" lengthAdjust="spacingAndGlyphs" class="t">60</text><line x1="299.6" y1="424.7" x2="303.1" y2="424.7" stroke="#151515" stroke-width="1.2"/><text x="288.09" y="427.4" font-size="8.5" textLength="8.51" lengthAdjust="spacingAndGlyphs" class="t">80</text><line x1="299.6" y1="398.9" x2="303.1" y2="398.9" stroke="#151515" stroke-width="1.2"/><text x="283.84" y="401.6" font-size="8.5" textLength="12.76" lengthAdjust="spacingAndGlyphs" class="t">100</text><line x1="305.2" y1="530.5" x2="305.2" y2="533.7" stroke="#151515" stroke-width="1.2"/><text x="303.07" y="545" font-size="8.5" textLength="4.25" lengthAdjust="spacingAndGlyphs" class="t">0</text><line x1="330.6" y1="530.5" x2="330.6" y2="533.7" stroke="#151515" stroke-width="1.2"/><text x="328.47" y="545" font-size="8.5" textLength="4.25" lengthAdjust="spacingAndGlyphs" class="t">3</text><line x1="356" y1="530.5" x2="356" y2="533.7" stroke="#151515" stroke-width="1.2"/><text x="353.87" y="545" font-size="8.5" textLength="4.25" lengthAdjust="spacingAndGlyphs" class="t">6</text><line x1="381.4" y1="530.5" x2="381.4" y2="533.7" stroke="#151515" stroke-width="1.2"/><text x="379.27" y="545" font-size="8.5" textLength="4.25" lengthAdjust="spacingAndGlyphs" class="t">9</text><line x1="406.8" y1="530.5" x2="406.8" y2="533.7" stroke="#151515" stroke-width="1.2"/><text x="402.55" y="545" font-size="8.5" textLength="8.51" lengthAdjust="spacingAndGlyphs" class="t">12</text><line x1="432.2" y1="530.5" x2="432.2" y2="533.7" stroke="#151515" stroke-width="1.2"/><text x="427.95" y="545" font-size="8.5" textLength="8.51" lengthAdjust="spacingAndGlyphs" class="t">15</text><line x1="457.6" y1="530.5" x2="457.6" y2="533.7" stroke="#151515" stroke-width="1.2"/><text x="453.35" y="545" font-size="8.5" textLength="8.51" lengthAdjust="spacingAndGlyphs" class="t">18</text><line x1="483" y1="530.5" x2="483" y2="533.7" stroke="#151515" stroke-width="1.2"/><text x="478.75" y="545" font-size="8.5" textLength="8.51" lengthAdjust="spacingAndGlyphs" class="t">21</text><line x1="508.4" y1="530.5" x2="508.4" y2="533.7" stroke="#151515" stroke-width="1.2"/><text x="504.15" y="545" font-size="8.5" textLength="8.51" lengthAdjust="spacingAndGlyphs" class="t">24</text><text x="361.2" y="558.5" font-size="9.8" textLength="91.2" lengthAdjust="spacingAndGlyphs" class="t">Months from transplant</text><text transform="translate(277.2,499.25) rotate(-90)" font-size="10.2" textLength="72.4" lengthAdjust="spacingAndGlyphs" class="t">% competing risks</text><line x1="308.9" y1="404.5" x2="331.3" y2="404.5" stroke="#a11a3f" stroke-width="1.8"/><line x1="309" y1="414.5" x2="331.7" y2="414.5" stroke="#222b44" stroke-width="1.6" stroke-dasharray="0.7,2.5,3,2.5,3,2.5,3,2.5,3,9"/><line x1="308.9" y1="424.5" x2="331.3" y2="424.5" stroke="#334566" stroke-width="1.8"/><text x="334.9" y="407.3" font-size="9" textLength="69.8" lengthAdjust="spacingAndGlyphs" class="t">DP–matched Sibiling</text><text x="334.9" y="417.3" font-size="9" textLength="61.5" lengthAdjust="spacingAndGlyphs" class="t">DP–matched URD</text><text x="334.9" y="427.3" font-size="9" textLength="73.2" lengthAdjust="spacingAndGlyphs" class="t">DP–mismatched URD</text><polyline points="305.6,527.9 309.2,525.2 311.8,521.7 313.6,518.5 316.2,515.8 319.7,513.2 323.2,508.8 325.9,505.2 328.5,500.8 331.2,498.17 335.6,495.45 340,493.54 344.4,492.03 350.5,489.69 355,486.89 362.7,482.94 370.4,480.03 378.1,478.15 385.8,476.21 393.5,474.7 401.2,473.44 408.8,471.72 416.5,470.33 424.2,469.47 430,469.1 445.4,468.18 460.8,466.8 476.2,466 491.5,464.9 508.4,463.9" fill="none" stroke="#a11a3f" stroke-width="1.7" stroke-linejoin="round"/><polyline points="305.6,527.6 309.2,524.9 311.8,521.4 313.6,517.9 314.4,513.8 318.8,511 323.2,508 325,503 328.3,498 329.4,497.2 332,494.5 334.7,491.4 338.2,487.9 341.7,486.2 343.1,485.9 348.1,483.4 353,479.1 356.7,476.6 362.7,473.5 370.4,470.8 378.1,468.5 385.8,466.9 393.5,466.2 402.7,464.9 407.3,462.3 408.8,461.2 419.6,460.3 430,459.7 466.9,458.8 470,457.7 485.4,457.2 488.5,456.2 494.6,455.4 508.4,455.4" fill="none" stroke="#222b44" stroke-width="1.6" stroke-dasharray="3,2.3"/><polyline points="305.6,527.6 309.2,524.9 311.8,521.4 313.6,517.9 316.2,515.2 319.7,512.6 323.2,508.2 325.9,504.6 328.5,500.2 331.2,497.57 335.6,494.85 340,492.94 344.4,491.43 350.5,489.09 355,486.29 362.7,482.34 370.4,479.43 378.1,477.55 385.8,475.61 393.5,474.1 401.2,472.84 408.8,471.12 416.5,469.73 424.2,468.87 430,468.5 445.4,467.58 460.8,466.2 476.2,465.4 491.5,464.3 508.4,463.3" fill="none" stroke="#334566" stroke-width="1.7" stroke-linejoin="round"/></g>
<rect x="0" y="0" width="520" height="1.2" fill="#000"/>
<rect x="0" y="0" width="1.1" height="568" fill="#000"/>
<rect x="518.3" y="0" width="1.7" height="568" fill="#000"/>
<rect x="0" y="566.3" width="520" height="1.7" fill="#000"/>
</svg>
</body></html>
